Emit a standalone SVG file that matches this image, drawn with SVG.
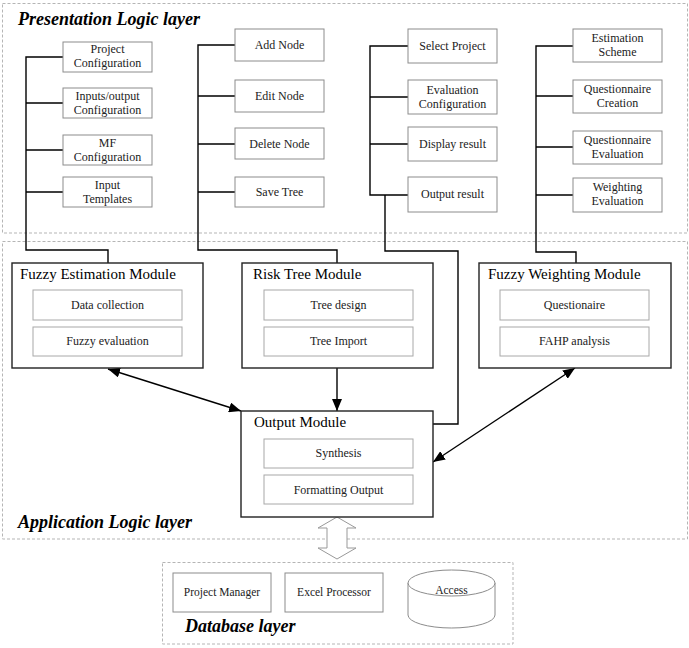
<svg xmlns="http://www.w3.org/2000/svg" width="689" height="648" viewBox="0 0 689 648">
<style>
.layer{fill:none;stroke:#b5b5b5;stroke-width:1;stroke-dasharray:3,2}
.lt{font-family:"Liberation Serif",serif;font-weight:bold;font-style:italic;font-size:18px;fill:#000}
.pb{fill:#fff;stroke:#8c8c8c;stroke-width:1}
.pt{font-family:"Liberation Serif",serif;font-size:12px;fill:#222;text-anchor:middle}
.mb{fill:#fff;stroke:#222;stroke-width:1.4}
.mt{font-family:"Liberation Serif",serif;font-size:15px;fill:#000}
.ib{fill:#fff;stroke:#a8a8a8;stroke-width:1}
.con{fill:none;stroke:#000;stroke-width:1.4}
</style>
<defs>
<marker id="ah" viewBox="0 0 12 10" refX="12" refY="5" markerWidth="12" markerHeight="10" markerUnits="userSpaceOnUse" orient="auto-start-reverse">
<path d="M0,0 L12,5 L0,10 z" fill="#000"/>
</marker>
</defs>
<rect width="689" height="648" fill="#fff"/>
<g id="layers">
<rect class="layer" x="2.5" y="3.5" width="685" height="229.5"/>
<text class="lt" x="18" y="25">Presentation Logic layer</text>
<rect class="layer" x="2.5" y="241.5" width="685" height="297.5"/>
<text class="lt" x="18" y="528">Application Logic layer</text>
<rect class="layer" x="162.5" y="562.5" width="350.5" height="81.5"/>
<text class="lt" x="185" y="632">Database layer</text>
</g>
<g id="connectors">
<path class="con" d="M108,263 V250 H26 V57 H63 M26,103 H63 M26,150 H63 M26,192 H63"/>
<path class="con" d="M337,263 V250 H198 V45 H235 M198,96 H235 M198,144 H235 M198,192 H235"/>
<path class="con" d="M408,46 H370 V195 H408 M370,97 H408 M370,144 H408 M385,195 V251 H458 V424 H433"/>
<path class="con" d="M576,263 V252 H536 V46 H573 M536,96 H573 M536,147 H573 M536,195 H573"/>
<line class="con" x1="108" y1="369" x2="241" y2="411" marker-start="url(#ah)" marker-end="url(#ah)"/>
<line class="con" x1="337" y1="368" x2="337" y2="411" marker-end="url(#ah)"/>
<line class="con" x1="575" y1="368" x2="433" y2="462" marker-start="url(#ah)" marker-end="url(#ah)"/>
<path d="M337,517 L356,528 H347 V548 H356 L337,559 L318,548 H327 V528 H318 Z" fill="#fff" stroke="#999" stroke-width="1"/>
</g>
<g id="p-project-config"><rect class="pb" x="63" y="42" width="89" height="30"/><text class="pt" x="107.5" y="53">Project</text><text class="pt" x="107.5" y="67">Configuration</text></g>
<g id="p-io-config"><rect class="pb" x="63" y="88" width="89" height="30"/><text class="pt" x="107.5" y="100">Inputs/output</text><text class="pt" x="107.5" y="114">Configuration</text></g>
<g id="p-mf-config"><rect class="pb" x="63" y="135" width="89" height="30"/><text class="pt" x="107.5" y="147">MF</text><text class="pt" x="107.5" y="161">Configuration</text></g>
<g id="p-input-templates"><rect class="pb" x="63" y="177" width="89" height="30"/><text class="pt" x="107.5" y="189">Input</text><text class="pt" x="107.5" y="203">Templates</text></g>
<g id="p-add-node"><rect class="pb" x="235" y="29" width="89" height="32"/><text class="pt" x="279.5" y="49">Add Node</text></g>
<g id="p-edit-node"><rect class="pb" x="235" y="80" width="89" height="32"/><text class="pt" x="279.5" y="100">Edit Node</text></g>
<g id="p-delete-node"><rect class="pb" x="235" y="128" width="89" height="31"/><text class="pt" x="279.5" y="148">Delete Node</text></g>
<g id="p-save-tree"><rect class="pb" x="235" y="177" width="89" height="30"/><text class="pt" x="279.5" y="196">Save Tree</text></g>
<g id="p-select-project"><rect class="pb" x="408" y="29" width="89" height="34"/><text class="pt" x="452.5" y="50">Select Project</text></g>
<g id="p-eval-config"><rect class="pb" x="408" y="80" width="89" height="34"/><text class="pt" x="452.5" y="94">Evaluation</text><text class="pt" x="452.5" y="108">Configuration</text></g>
<g id="p-display-result"><rect class="pb" x="408" y="127" width="89" height="34"/><text class="pt" x="452.5" y="148">Display result</text></g>
<g id="p-output-result"><rect class="pb" x="408" y="177" width="89" height="35"/><text class="pt" x="452.5" y="198">Output result</text></g>
<g id="p-estimation-scheme"><rect class="pb" x="573" y="29" width="89" height="33"/><text class="pt" x="617.5" y="42">Estimation</text><text class="pt" x="617.5" y="56">Scheme</text></g>
<g id="p-q-creation"><rect class="pb" x="573" y="80" width="89" height="33"/><text class="pt" x="617.5" y="93">Questionnaire</text><text class="pt" x="617.5" y="107">Creation</text></g>
<g id="p-q-evaluation"><rect class="pb" x="573" y="131" width="89" height="33"/><text class="pt" x="617.5" y="144">Questionnaire</text><text class="pt" x="617.5" y="158">Evaluation</text></g>
<g id="p-weighting-eval"><rect class="pb" x="573" y="178" width="89" height="34"/><text class="pt" x="617.5" y="191">Weighting</text><text class="pt" x="617.5" y="205">Evaluation</text></g>
<g id="m-fuzzy-estimation"><rect class="mb" x="12" y="263" width="191" height="105"/><text class="mt" x="20" y="279">Fuzzy Estimation Module</text>
<rect class="ib" x="33" y="290" width="149" height="30"/><text class="pt" x="107.5" y="309">Data collection</text>
<rect class="ib" x="33" y="327" width="149" height="29"/><text class="pt" x="107.5" y="345">Fuzzy evaluation</text></g>
<g id="m-risk-tree"><rect class="mb" x="242" y="263" width="191" height="105"/><text class="mt" x="253" y="279">Risk Tree Module</text>
<rect class="ib" x="264" y="290" width="149" height="30"/><text class="pt" x="338.5" y="309">Tree design</text>
<rect class="ib" x="264" y="327" width="149" height="29"/><text class="pt" x="338.5" y="345">Tree Import</text></g>
<g id="m-fuzzy-weighting"><rect class="mb" x="479" y="263" width="192" height="105"/><text class="mt" x="488" y="279">Fuzzy Weighting Module</text>
<rect class="ib" x="500" y="290" width="149" height="30"/><text class="pt" x="574.5" y="309">Questionaire</text>
<rect class="ib" x="500" y="327" width="149" height="29"/><text class="pt" x="574.5" y="345">FAHP analysis</text></g>
<g id="m-output"><rect class="mb" x="241" y="411" width="192" height="106"/><text class="mt" x="254" y="427">Output Module</text>
<rect class="ib" x="264" y="439" width="149" height="29"/><text class="pt" x="338.5" y="457">Synthesis</text>
<rect class="ib" x="264" y="475" width="149" height="29"/><text class="pt" x="338.5" y="494">Formatting Output</text></g>
<g id="d-project-manager"><rect class="pb" x="173" y="573" width="98" height="39"/><text class="pt" x="222" y="596" style="font-size:11.5px">Project Manager</text></g>
<g id="d-excel-processor"><rect class="pb" x="285" y="573" width="98" height="39"/><text class="pt" x="334" y="596" style="font-size:11.5px">Excel Processor</text></g>
<g id="d-access"><path d="M408,583 V615 A43.5,13 0 0 0 495,615 V583" fill="#fff" stroke="#8c8c8c"/><ellipse cx="451.5" cy="583" rx="43.5" ry="13" fill="#fff" stroke="#8c8c8c"/><text class="pt" x="451.5" y="594" style="font-size:11.5px">Access</text></g>
</svg>
